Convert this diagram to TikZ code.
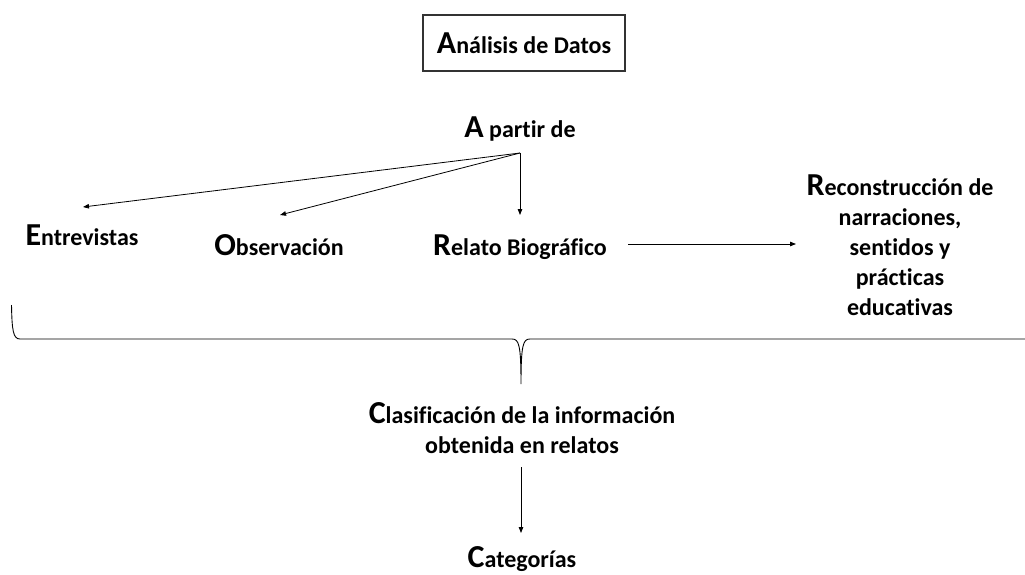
\documentclass[tikz,border=0pt]{standalone}
\usepackage{fontspec}
\setmainfont{Carlito}[Ligatures=NoCommon]
\usetikzlibrary{arrows.meta}
\pgfdeclarelayer{edgelayer}
\pgfdeclarelayer{nodelayer}
\pgfsetlayers{edgelayer,nodelayer,main}
\newcommand{\inicial}[1]{{\fontsize{32}{32}\selectfont #1}}
\tikzset{font=\fontsize{24}{30}\selectfont\bfseries}
\tikzstyle{none}=[inner sep=0pt]
\tikzstyle{txt}=[inner sep=0pt,anchor=base,align=center]
\tikzstyle{titulo}=[draw=black!80,line width=1.1pt,minimum width=202pt,minimum height=56pt]
\tikzstyle{flecha}=[-{Triangle[length=6pt,width=4.5pt]},line width=0.8pt]

\begin{document}
\begin{tikzpicture}[x=1pt,y=-1pt]
	\useasboundingbox (0,0) rectangle (1025,574);
	\begin{pgfonlayer}{nodelayer}
		\node [style=titulo] (0) at (524, 43) {\inicial{A}nálisis de Datos};
		\node [style=txt] (1) at (520, 137) {\inicial{A} partir de};
		\node [style=none] (2) at (520, 153) {};
		\node [style=none] (3) at (83, 207) {};
		\node [style=none] (4) at (280, 215) {};
		\node [style=none] (5) at (520, 215) {};
		\node [style=txt] (6) at (82, 245) {\inicial{E}ntrevistas};
		\node [style=txt] (7) at (279, 255) {\inicial{O}bservación};
		\node [style=txt] (8) at (520, 255) {\inicial{R}elato Biográfico};
		\node [style=none] (9) at (628, 244) {};
		\node [style=none] (10) at (796, 244) {};
		\node [style=txt] (11) at (900, 315) {\inicial{R}econstrucción de\\narraciones,\\sentidos y\\prácticas\\educativas};
		\node [style=txt] (12) at (522, 453) {\inicial{C}lasificación de la información\\obtenida en relatos};
		\node [style=none] (13) at (521, 467) {};
		\node [style=none] (14) at (521, 533) {};
		\node [style=txt] (15) at (522, 567) {\inicial{C}ategorías};
	\end{pgfonlayer}
	\begin{pgfonlayer}{edgelayer}
		\draw [style=flecha] (2.center) to (3.center);
		\draw [style=flecha] (2.center) to (4.center);
		\draw [style=flecha] (2.center) to (5.center);
		\draw [style=flecha] (9.center) to (10.center);
		\draw [style=flecha] (13.center) to (14.center);
		% llave
		\draw [line width=0.9pt] (11.5, 305) .. controls (12, 330) and (13, 339) .. (20, 339)
			-- (512, 339) .. controls (519, 339) and (521, 345) .. (521, 384)
			.. controls (521, 345) and (523, 339) .. (530, 339) -- (1025, 339);
	\end{pgfonlayer}
\end{tikzpicture}
\end{document}
